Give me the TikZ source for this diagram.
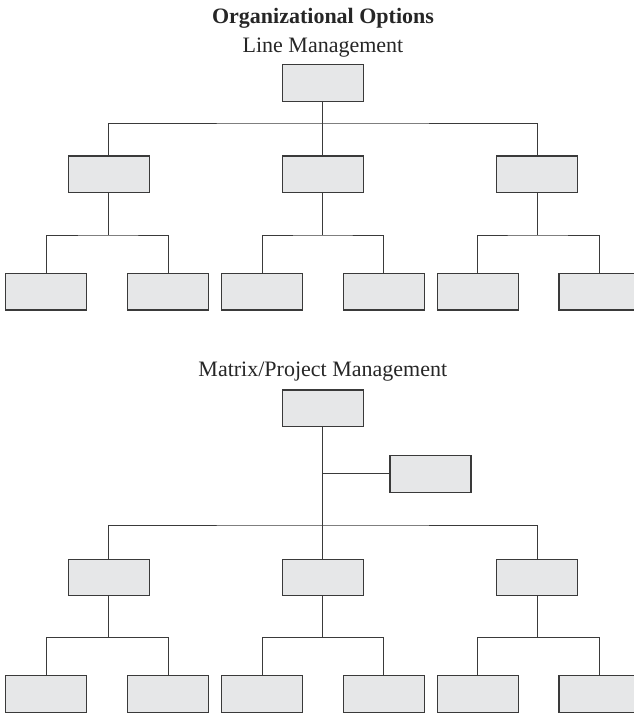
\documentclass[tikz,border=0pt]{standalone}
\usepackage{fontspec}
\setmainfont{Liberation Serif}
\definecolor{boxfill}{HTML}{E6E7E8}
\definecolor{inkgray}{HTML}{3A3A3A}
\tikzset{
  orgbox/.style={draw=inkgray, fill=boxfill, line width=0.85pt,
    minimum width=60.75pt, minimum height=27.5pt, inner sep=0pt},
  link/.style={draw=inkgray, line width=0.75pt},
  caption/.style={anchor=base, inner sep=0pt, text=black!85,
    font=\fontsize{16.5}{20}\selectfont}
}
\begin{document}
\begin{tikzpicture}[x=0.75pt, y=-0.75pt]
  \useasboundingbox (0,0) rectangle (634,714);
  \clip (0,0) rectangle (634,714);

  % headings
  \node[caption] (title) at (323,23) {\bfseries Organizational Options};
  \node[caption] (lmtitle) at (323,52) {Line Management};
  \node[caption] (mxtitle) at (322.8,376.7) {Matrix/Project Management};

  % ---------- line management chart ----------
  \node[orgbox] (ltop) at (322.8,83) {};
  \node[orgbox] (la) at (108.7,174.3) {};
  \node[orgbox] (lb) at (322.8,174.3) {};
  \node[orgbox] (lc) at (537.3,174.3) {};
  \node[orgbox] (la1) at (46.3,291.7) {};
  \node[orgbox] (la2) at (168.3,291.7) {};
  \node[orgbox] (lb1) at (262,291.7) {};
  \node[orgbox] (lb2) at (383.8,291.7) {};
  \node[orgbox] (lc1) at (477.8,291.7) {};
  \node[orgbox] (lc2) at (599.5,291.7) {};

  \coordinate (lbus) at (322.8,123);
  \coordinate (labus) at (108.7,235);
  \coordinate (lbbus) at (322.8,235);
  \coordinate (lcbus) at (537.3,235);

  \draw[link] (ltop.south) -- (lbus);
  \draw[link] (la.north) |- (lbus) -| (lc.north);
  \draw[link] (lbus) -- (lb.north);
  \draw[link] (la.south) -- (labus);
  \draw[link] (la1.north) |- (labus) -| (la2.north);
  \draw[link] (lb.south) -- (lbbus);
  \draw[link] (lb1.north) |- (lbbus) -| (lb2.north);
  \draw[link] (lc.south) -- (lcbus);
  \draw[link] (lc1.north) |- (lcbus) -| (lc2.north);

  % ---------- matrix / project management chart ----------
  \node[orgbox] (mtop) at (322.8,408.3) {};
  \node[orgbox] (mside) at (430.5,473.8) {};
  \node[orgbox] (ma) at (108.7,577.5) {};
  \node[orgbox] (mb) at (322.8,577.5) {};
  \node[orgbox] (mc) at (537.3,577.5) {};
  \node[orgbox] (ma1) at (46.3,694.2) {};
  \node[orgbox] (ma2) at (168.3,694.2) {};
  \node[orgbox] (mb1) at (262,694.2) {};
  \node[orgbox] (mb2) at (383.8,694.2) {};
  \node[orgbox] (mc1) at (477.8,694.2) {};
  \node[orgbox] (mc2) at (599.5,694.2) {};

  \coordinate (mtap) at (322.8,473.8);
  \coordinate (mbus) at (322.8,525);
  \coordinate (mabus) at (108.7,637.7);
  \coordinate (mbbus) at (322.8,637.7);
  \coordinate (mcbus) at (537.3,637.7);

  \draw[link] (mtop.south) -- (mbus);
  \draw[link] (mtap) -- (mside.west);
  \draw[link] (ma.north) |- (mbus) -| (mc.north);
  \draw[link] (mbus) -- (mb.north);
  \draw[link] (ma.south) -- (mabus);
  \draw[link] (ma1.north) |- (mabus) -| (ma2.north);
  \draw[link] (mb.south) -- (mbbus);
  \draw[link] (mb1.north) |- (mbbus) -| (mb2.north);
  \draw[link] (mc.south) -- (mcbus);
  \draw[link] (mc1.north) |- (mcbus) -| (mc2.north);
\end{tikzpicture}
\end{document}
